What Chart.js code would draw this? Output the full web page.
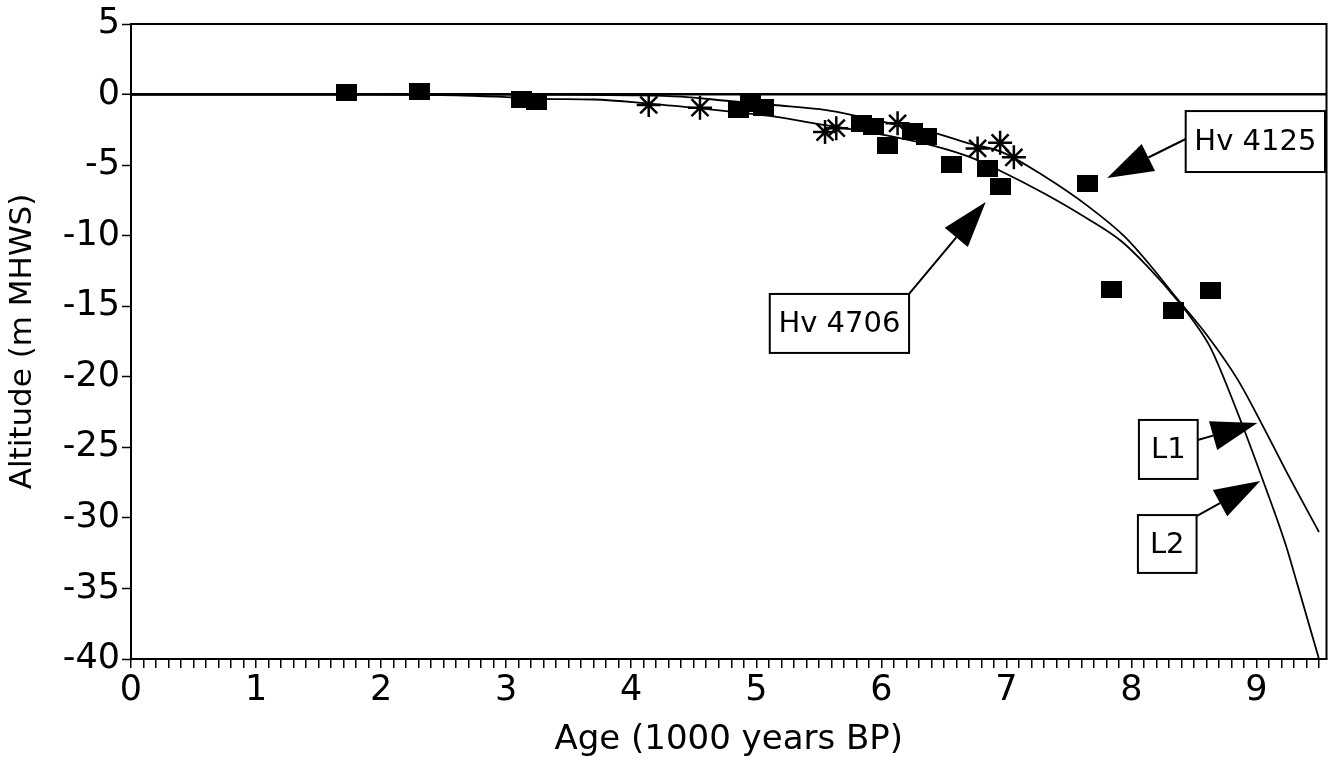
<!DOCTYPE html>
<html>
<head>
<meta charset="utf-8">
<script src="https://cdn.jsdelivr.net/npm/chart.js@4.4.0/dist/chart.umd.min.js"></script>
<style>
  html, body { margin: 0; padding: 0; background: #fff; }
</style>
</head>
<body>
<canvas id="sea_level_chart" width="1341" height="769"></canvas>
<script>
// dated samples (filled squares)
var sampleAges = [1.72, 2.31, 3.12, 3.24, 4.86, 4.95, 5.06, 5.84, 5.94, 6.05, 6.25, 6.36, 6.56, 6.85, 6.95, 7.65, 7.84, 8.34, 8.63];
var sampleAltitudes = [0.13, 0.2, -0.34, -0.46, -1.05, -0.63, -0.9, -2.04, -2.28, -3.58, -2.64, -2.99, -4.95, -5.24, -6.49, -6.3, -13.8, -15.28, -13.9];

// asterisk points
var starAges = [4.14, 4.55, 5.55, 5.64, 6.13, 6.77, 6.95, 7.06];
var starAltitudes = [-0.74, -0.93, -2.66, -2.38, -2.04, -3.82, -3.42, -4.45];

// curve L1
var l1Ages = [0, 1, 2, 3, 4, 4.4, 4.76, 5.14, 5.56, 5.77, 6.1, 6.44, 6.7, 6.96, 7.31, 7.66, 7.95, 8.16, 8.35, 8.6, 8.85, 9.04, 9.25, 9.5];
var l1Altitudes = [0, 0, 0, 0, -0.05, -0.15, -0.44, -0.74, -1.1, -1.45, -2.1, -2.75, -3.46, -4.06, -5.83, -7.96, -10.1, -12.2, -14.3, -17.0, -20.2, -23.3, -26.9, -31.0];

// curve L2
var l2Ages = [0, 1, 2, 2.6, 3.0, 3.3, 3.7, 4.1, 4.55, 4.8, 5.15, 5.5, 5.75, 6.1, 6.45, 6.7, 6.95, 7.3, 7.63, 7.92, 8.13, 8.37, 8.5, 8.63, 8.86, 9.05, 9.23, 9.33, 9.5];
var l2Altitudes = [0, 0, 0, -0.05, -0.18, -0.3, -0.35, -0.6, -0.98, -1.22, -1.57, -2.1, -2.45, -3.0, -3.7, -4.4, -5.4, -7.0, -8.7, -10.4, -12.2, -14.6, -16.1, -17.9, -22.8, -27.3, -31.8, -34.8, -40];

var ageLabels = [0, 1, 2, 3, 4, 5, 6, 7, 8, 9];

// labelled arrows, in data units
var callouts = [
  { text: 'Hv 4125', box: [8.434, -1.17, 9.548, -5.49], from: [8.434, -3.15], tip: [7.806, -5.91] },
  { text: 'Hv 4706', box: [5.108, -14.13, 6.222, -18.31], from: [6.222, -14.13], tip: [6.835, -7.61] },
  { text: 'L1', box: [8.06, -23.06, 8.53, -27.24], from: [8.53, -24.48], tip: [9.007, -23.28] },
  { text: 'L2', box: [8.052, -29.8, 8.521, -33.9], from: [8.521, -29.87], tip: [9.031, -27.39] }
];

var FONT = 'DejaVu Sans';

function toPoints(xs, ys) {
  var pts = [];
  for (var i = 0; i < xs.length; i++) pts.push({ x: xs[i], y: ys[i] });
  return pts;
}

function squareMarker() {
  var c = document.createElement('canvas');
  c.width = 21;
  c.height = 17;
  var g = c.getContext('2d');
  g.fillStyle = '#000';
  g.fillRect(0, 0, 21, 17);
  return c;
}

var frameAndCallouts = {
  id: 'frameAndCallouts',
  afterDatasetsDraw: function(chart) {
    var c = chart.ctx, a = chart.chartArea;
    var xs = chart.scales.x, ys = chart.scales.y;
    c.save();
    c.strokeStyle = '#000';
    c.lineWidth = 2;
    c.beginPath();
    c.moveTo(a.left, a.top);
    c.lineTo(a.right, a.top);
    c.lineTo(a.right, a.bottom);
    c.stroke();

    callouts.forEach(function(o) {
      var x1 = xs.getPixelForValue(o.box[0]), y1 = ys.getPixelForValue(o.box[1]);
      var x2 = xs.getPixelForValue(o.box[2]), y2 = ys.getPixelForValue(o.box[3]);
      c.fillStyle = '#fff';
      c.fillRect(x1, y1, x2 - x1, y2 - y1);
      c.lineWidth = 2;
      c.strokeRect(x1, y1, x2 - x1, y2 - y1);
      c.fillStyle = '#000';
      c.font = '29px "' + FONT + '"';
      c.textAlign = 'center';
      c.textBaseline = 'middle';
      c.fillText(o.text, (x1 + x2) / 2, (y1 + y2) / 2 + 1);

      var fx = xs.getPixelForValue(o.from[0]), fy = ys.getPixelForValue(o.from[1]);
      var tx = xs.getPixelForValue(o.tip[0]), ty = ys.getPixelForValue(o.tip[1]);
      var dx = tx - fx, dy = ty - fy, len = Math.sqrt(dx * dx + dy * dy);
      var ux = dx / len, uy = dy / len;
      var headLen = 46, half = 15;
      var bx = tx - ux * headLen, by = ty - uy * headLen;
      c.lineWidth = 2;
      c.beginPath();
      c.moveTo(fx, fy);
      c.lineTo(bx, by);
      c.stroke();
      c.beginPath();
      c.moveTo(tx, ty);
      c.lineTo(bx - uy * half, by + ux * half);
      c.lineTo(bx + uy * half, by - ux * half);
      c.closePath();
      c.fill();
    });
    c.restore();
  }
};

var ctx = document.getElementById('sea_level_chart').getContext('2d');
var myChart = new Chart(ctx, {
  type: 'scatter',
  data: {
    datasets: [{
      label: 'Samples',
      data: toPoints(sampleAges, sampleAltitudes),
      pointStyle: squareMarker(),
      pointRadius: 10
    }, {
      label: 'Asterisks',
      data: toPoints(starAges, starAltitudes),
      pointStyle: 'star',
      pointRadius: 12,
      borderColor: '#000',
      borderWidth: 2.5
    }, {
      label: 'L1',
      data: toPoints(l1Ages, l1Altitudes),
      showLine: true,
      borderColor: '#000',
      borderWidth: 1.8,
      pointRadius: 0,
      cubicInterpolationMode: 'monotone'
    }, {
      label: 'L2',
      data: toPoints(l2Ages, l2Altitudes),
      showLine: true,
      borderColor: '#000',
      borderWidth: 1.8,
      pointRadius: 0,
      cubicInterpolationMode: 'monotone'
    }]
  },
  options: {
    responsive: false,
    devicePixelRatio: 1,
    animation: false,
    layout: { padding: { top: 24, right: 6, bottom: 0, left: 0 } },
    plugins: {
      legend: { display: false },
      tooltip: { enabled: false }
    },
    scales: {
      x: {
        type: 'linear',
        min: 0,
        max: 9.56,
        afterFit: function(scale) { scale.height = 110; },
        border: { color: '#000', width: 2 },
        grid: { drawOnChartArea: false, color: '#000', tickLength: 9, lineWidth: 1.5 },
        ticks: {
          stepSize: 0.1,
          autoSkip: false,
          maxRotation: 0,
          includeBounds: false,
          padding: 2,
          color: '#000',
          font: { family: FONT, size: 35 },
          callback: function(v) {
            var r = Math.round(v);
            return (Math.abs(v - r) < 1e-6 && ageLabels.indexOf(r) >= 0) ? String(r) : '';
          }
        },
        title: {
          display: true,
          text: 'Age (1000 years BP)',
          color: '#000',
          font: { family: FONT, size: 34 },
          padding: { top: 0, bottom: 8 }
        }
      },
      y: {
        min: -40,
        max: 5,
        afterFit: function(scale) { scale.width = 131; },
        border: { color: '#000', width: 2 },
        grid: {
          color: function(c) { return c.tick && c.tick.value === 0 ? '#000' : 'rgba(0,0,0,0)'; },
          lineWidth: function(c) { return c.tick && c.tick.value === 0 ? 2.5 : 1; },
          tickColor: '#000',
          tickWidth: 1.5,
          tickLength: 9
        },
        ticks: {
          stepSize: 5,
          padding: 2,
          color: '#000',
          font: { family: FONT, size: 35 }
        },
        title: {
          display: true,
          text: 'Altitude (m MHWS)',
          color: '#000',
          font: { family: FONT, size: 31 },
          padding: { top: 4, bottom: 0 }
        }
      }
    }
  },
  plugins: [frameAndCallouts]
});
</script>
</body>
</html>
